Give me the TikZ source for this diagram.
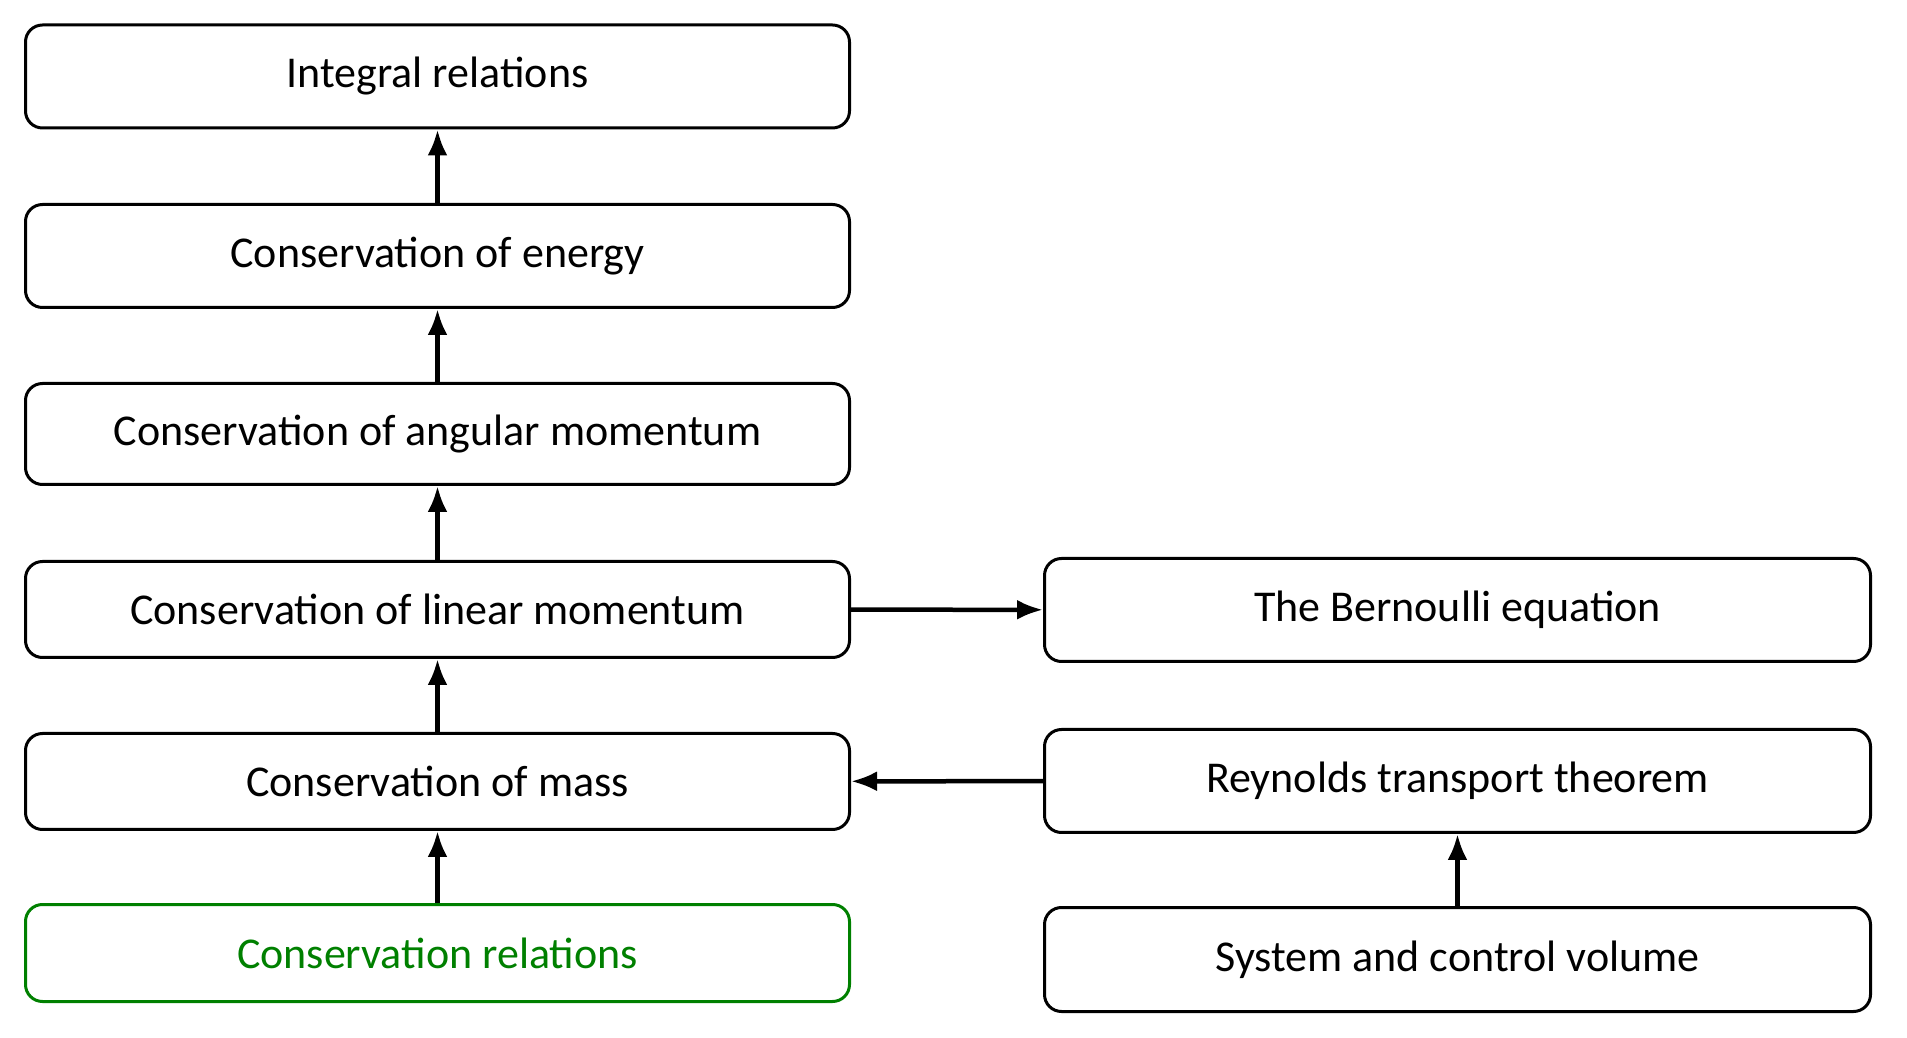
\documentclass[tikz,border=0pt]{standalone}
\usepackage{fontspec}
\setmainfont{Carlito}
\usepackage{tikz}
\usetikzlibrary{arrows.meta}
\definecolor{relgreen}{RGB}{0,128,0}
\tikzset{topic/.style={draw, line width=3pt, rounded corners=17pt,
    minimum width=824pt, minimum height=#1, inner sep=0pt,
    font=\fontsize{44}{46}\selectfont},
  topic/.default=103pt,
  link/.style={line width=4.5pt, -{Latex[length=26pt, width=20pt]}}
}

\begin{document}
\begin{tikzpicture}[x=1pt, y=1pt]
      \useasboundingbox (0,0) rectangle (1907,1037);
      \node[topic] (intrel) at (437.5,960.5) {Integral relations};
      \node[topic] (energy) at (437.5,781) {Conservation of energy};
      \node[topic=101pt] (angular) at (437.5,603) {Conservation of angular momentum};
      \node[topic=96pt] (linear) at (437.5,427.5) {Conservation of linear momentum};
      \node[topic=96pt] (mass) at (437.5,255.5) {Conservation of mass};
      \node[topic=97pt, draw=relgreen, text=relgreen] (consrel) at (437.5,84) {Conservation relations};
      \node[topic, minimum width=826pt] (bernoulli) at (1457.5,427) {The Bernoulli equation};
      \node[topic, minimum width=826pt] (reynolds) at (1457.5,256) {Reynolds transport theorem};
      \node[topic=104pt, minimum width=826pt] (system) at (1457.5,77.5) {System and control volume};
      \draw[link] (energy) -- (intrel);
      \draw[link] (angular) -- (energy);
      \draw[link] (linear) -- (angular);
      \draw[link] (mass) -- (linear);
      \draw[link] (consrel) -- (mass);
      \draw[link] (linear) -- (bernoulli);
      \draw[link] (reynolds) -- (mass);
      \draw[link] (system) -- (reynolds);
    \end{tikzpicture}
\end{document}
